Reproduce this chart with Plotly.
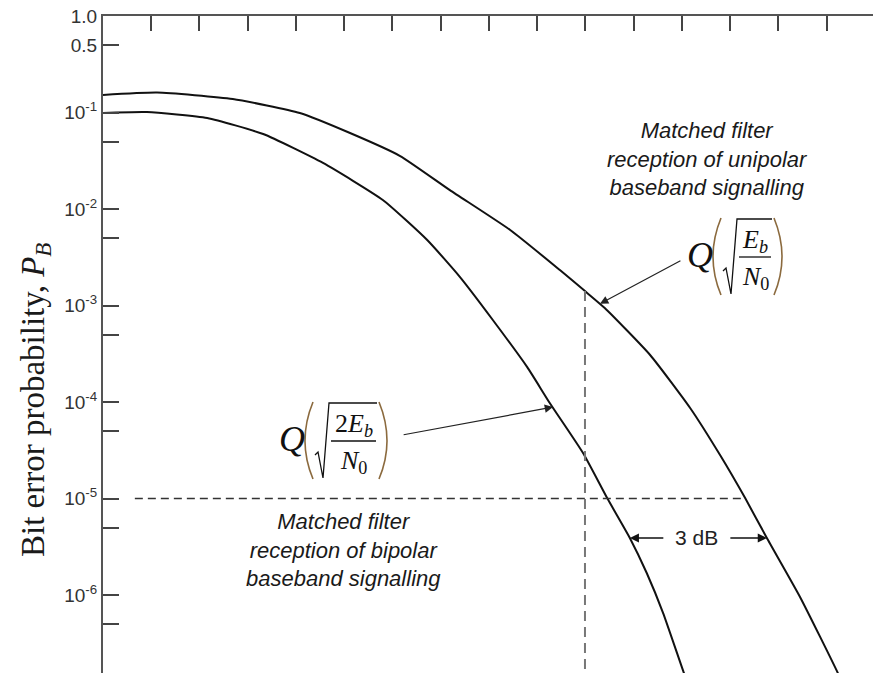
import numpy as np
import plotly.graph_objects as go

# Values (x: Eb/N0 in dB, one unit per top tick)
ebn0_unipolar = [0.0, 1.12, 2.69, 4.08, 5.12, 6.16, 7.19, 8.44, 9.47, 9.99, 10.40,
                 11.34, 12.17, 12.79, 13.31, 13.76, 14.45, 15.23, 15.38]
pb_unipolar = [0.152, 0.161, 0.138, 0.0988, 0.0613, 0.0354, 0.0157, 6.06e-3, 2.33e-3,
               1.41e-3, 9.42e-4, 3.07e-4, 8.67e-5, 2.82e-5, 1.01e-5, 3.9e-6, 9.5e-7,
               1.56e-7, 1.04e-7]

ebn0_bipolar = [0.0, 0.91, 2.16, 3.32, 4.56, 5.80, 6.72, 7.40, 8.08, 8.79, 9.26, 9.95,
                10.45, 10.92, 11.27, 11.61, 12.04, 12.17]
pb_bipolar = [0.099, 0.101, 0.0877, 0.0598, 0.0300, 0.0124, 4.77e-3, 1.97e-3, 7.08e-4,
              2.31e-4, 9.77e-5, 2.96e-5, 1.01e-5, 3.9e-6, 1.69e-6, 6.5e-7, 1.56e-7, 1.04e-7]

# reference lines
pb_target = 1e-5
target_x = [0.66, 13.31]
marker_x = [9.99, 9.99]
marker_pb = [1.41e-3, 1.0e-7]

# 3 dB gap annotation
gap_pb = 3.9e-6
gap_x = [10.92, 13.76]
gap_label_x = 12.31

# arrow tips of the two Q() labels
q_uni_tip = (10.30, 1.04e-3)
q_bi_tip = (9.33, 8.87e-5)

ytick_vals = [1.0, 0.5, 1e-1, 5e-2, 1e-2, 5e-3, 1e-3, 5e-4, 1e-4, 5e-5, 1e-5, 5e-6, 1e-6, 5e-7]
ytick_text = ['1.0', '0.5', '10<sup>-1</sup>', '', '10<sup>-2</sup>', '', '10<sup>-3</sup>', '',
              '10<sup>-4</sup>', '', '10<sup>-5</sup>', '', '10<sup>-6</sup>', '']

W, H = 873, 673
L, T = 103, 16
PW, PH = W - L, H - T
Y_RANGE = [-6.808, 0]
X_RANGE = [0, 15.96]


def px(x):
    return (x - L) / PW


def py(y):
    return (H - y) / PH


def label(x, y, text, font, **kw):
    d = dict(xref='paper', yref='paper', x=px(x), y=py(y), text=text, showarrow=False,
             xanchor='center', yanchor='middle', font=font)
    d.update(kw)
    return d


fig = go.Figure()
fig.add_trace(go.Scatter(x=ebn0_unipolar, y=pb_unipolar, mode='lines',
                         line=dict(color='#111', width=2, shape='spline', smoothing=0.5)))
fig.add_trace(go.Scatter(x=ebn0_bipolar, y=pb_bipolar, mode='lines',
                         line=dict(color='#111', width=2, shape='spline', smoothing=0.5)))
fig.add_trace(go.Scatter(x=target_x, y=[pb_target, pb_target], mode='lines',
                         line=dict(color='#333', width=1.3, dash='8px,5px')))
fig.add_trace(go.Scatter(x=marker_x, y=marker_pb, mode='lines',
                         line=dict(color='#777', width=2, dash='10px,6px')))

annotations = []
shapes = []

sans = 'Liberation Sans, Arial'
serif = 'Liberation Serif, Times New Roman'
txt_font = dict(family=sans, size=22, color='#1a1a1a')
annotations.append(label(707, 159, '<i>Matched filter<br>reception of unipolar<br>baseband signalling</i>',
                         txt_font, align='center'))
annotations.append(label(343, 550, '<i>Matched filter<br>reception of bipolar<br>baseband signalling</i>',
                         txt_font, align='center'))
annotations.append(label(35, 400, 'Bit error probability, <i>P<sub>B</sub></i>',
                         dict(family=serif, size=33, color='#1a1a1a'), textangle=-90))

# 3 dB arrows
annotations.append(dict(x=gap_label_x, y=np.log10(gap_pb), text='3 dB', showarrow=False,
                        xanchor='center', yanchor='middle',
                        font=dict(family=sans, size=21, color='#222')))
annotations.append(dict(x=gap_x[0], y=np.log10(gap_pb), text='', showarrow=True, arrowhead=2,
                        arrowsize=1.4, arrowwidth=1.3, arrowcolor='#111', ax=35, ay=0))
annotations.append(dict(x=gap_x[1], y=np.log10(gap_pb), text='', showarrow=True, arrowhead=2,
                        arrowsize=1.4, arrowwidth=1.3, arrowcolor='#111', ax=-38, ay=0))

# arrows from formulas to curves
annotations.append(dict(x=q_uni_tip[0], y=np.log10(q_uni_tip[1]), text='', showarrow=True,
                        arrowhead=2, arrowsize=1.4, arrowwidth=1.2, arrowcolor='#222', ax=82, ay=-44))
annotations.append(dict(x=q_bi_tip[0], y=np.log10(q_bi_tip[1]), text='', showarrow=True,
                        arrowhead=2, arrowsize=1.4, arrowwidth=1.2, arrowcolor='#222', ax=-151, ay=28))


def q_formula(qx, cy, num, fw):
    annotations.append(label(qx, cy - 2, '<i>Q</i>', dict(family=serif, size=36, color='#111')))
    pc = '#8b6a3e'
    # left paren
    shapes.append(dict(type='path', xref='paper', yref='paper',
                       path=f'M {px(qx + 21)},{py(cy - 39)} Q {px(qx + 5)},{py(cy)} {px(qx + 21)},{py(cy + 38)}',
                       line=dict(color=pc, width=1.6)))
    # root sign with overline
    x_top = qx + 37
    x_end = x_top + fw + 3
    shapes.append(dict(type='path', xref='paper', yref='paper',
                       path=(f'M {px(qx + 23)},{py(cy + 14)} L {px(qx + 26)},{py(cy + 11)} '
                             f'L {px(qx + 31)},{py(cy + 37)} L {px(x_top)},{py(cy - 38)} '
                             f'L {px(x_end)},{py(cy - 38)}'),
                       line=dict(color='#111', width=1.3)))
    # fraction bar
    shapes.append(dict(type='line', xref='paper', yref='paper',
                       x0=px(x_top + 2), x1=px(x_top + 2 + fw), y0=py(cy), y1=py(cy),
                       line=dict(color='#111', width=1.3)))
    xc = x_top + 2 + fw / 2
    annotations.append(label(xc, cy - 16, num, dict(family=serif, size=26, color='#111')))
    annotations.append(label(xc, cy + 21, '<i>N</i><sub>0</sub>', dict(family=serif, size=26, color='#111')))
    # right paren
    shapes.append(dict(type='path', xref='paper', yref='paper',
                       path=f'M {px(x_end + 2)},{py(cy - 39)} Q {px(x_end + 18)},{py(cy)} {px(x_end + 2)},{py(cy + 38)}',
                       line=dict(color=pc, width=1.6)))


q_formula(700, 257, '<i>E</i><sub><i>b</i></sub>', 32)
q_formula(292, 441, '2<i>E</i><sub><i>b</i></sub>', 45)

fig.update_layout(
    width=W, height=H,
    margin=dict(l=L, r=0, t=T, b=0, autoexpand=False),
    plot_bgcolor='white', paper_bgcolor='white',
    showlegend=False,
    annotations=annotations,
    shapes=shapes,
    xaxis=dict(range=X_RANGE, side='top', showline=True, linecolor='#555', linewidth=2,
               ticks='inside', ticklen=15, tickwidth=1.5, tickcolor='#444', tick0=0, dtick=1,
               showticklabels=False, showgrid=False, zeroline=False, automargin=False),
    yaxis=dict(type='log', range=Y_RANGE, showline=True, linecolor='#555', linewidth=2,
               ticks='inside', ticklen=16, tickwidth=1.5, tickcolor='#444',
               tickmode='array', tickvals=ytick_vals, ticktext=ytick_text,
               tickfont=dict(family=sans, size=19, color='#333'),
               showgrid=False, zeroline=False, automargin=False),
    yaxis2=dict(type='log', range=Y_RANGE, overlaying='y', side='right', showline=False,
                ticks='inside', ticklen=16, tickwidth=1.5, tickcolor='#444',
                tickmode='array', tickvals=ytick_vals, showticklabels=False,
                showgrid=False, zeroline=False, automargin=False),
)

# drop the browser's default page margin so the figure sits at the window's corner
fig.write_html('out.html', config={'displayModeBar': False},
               post_script="document.body.style.margin='0';")
